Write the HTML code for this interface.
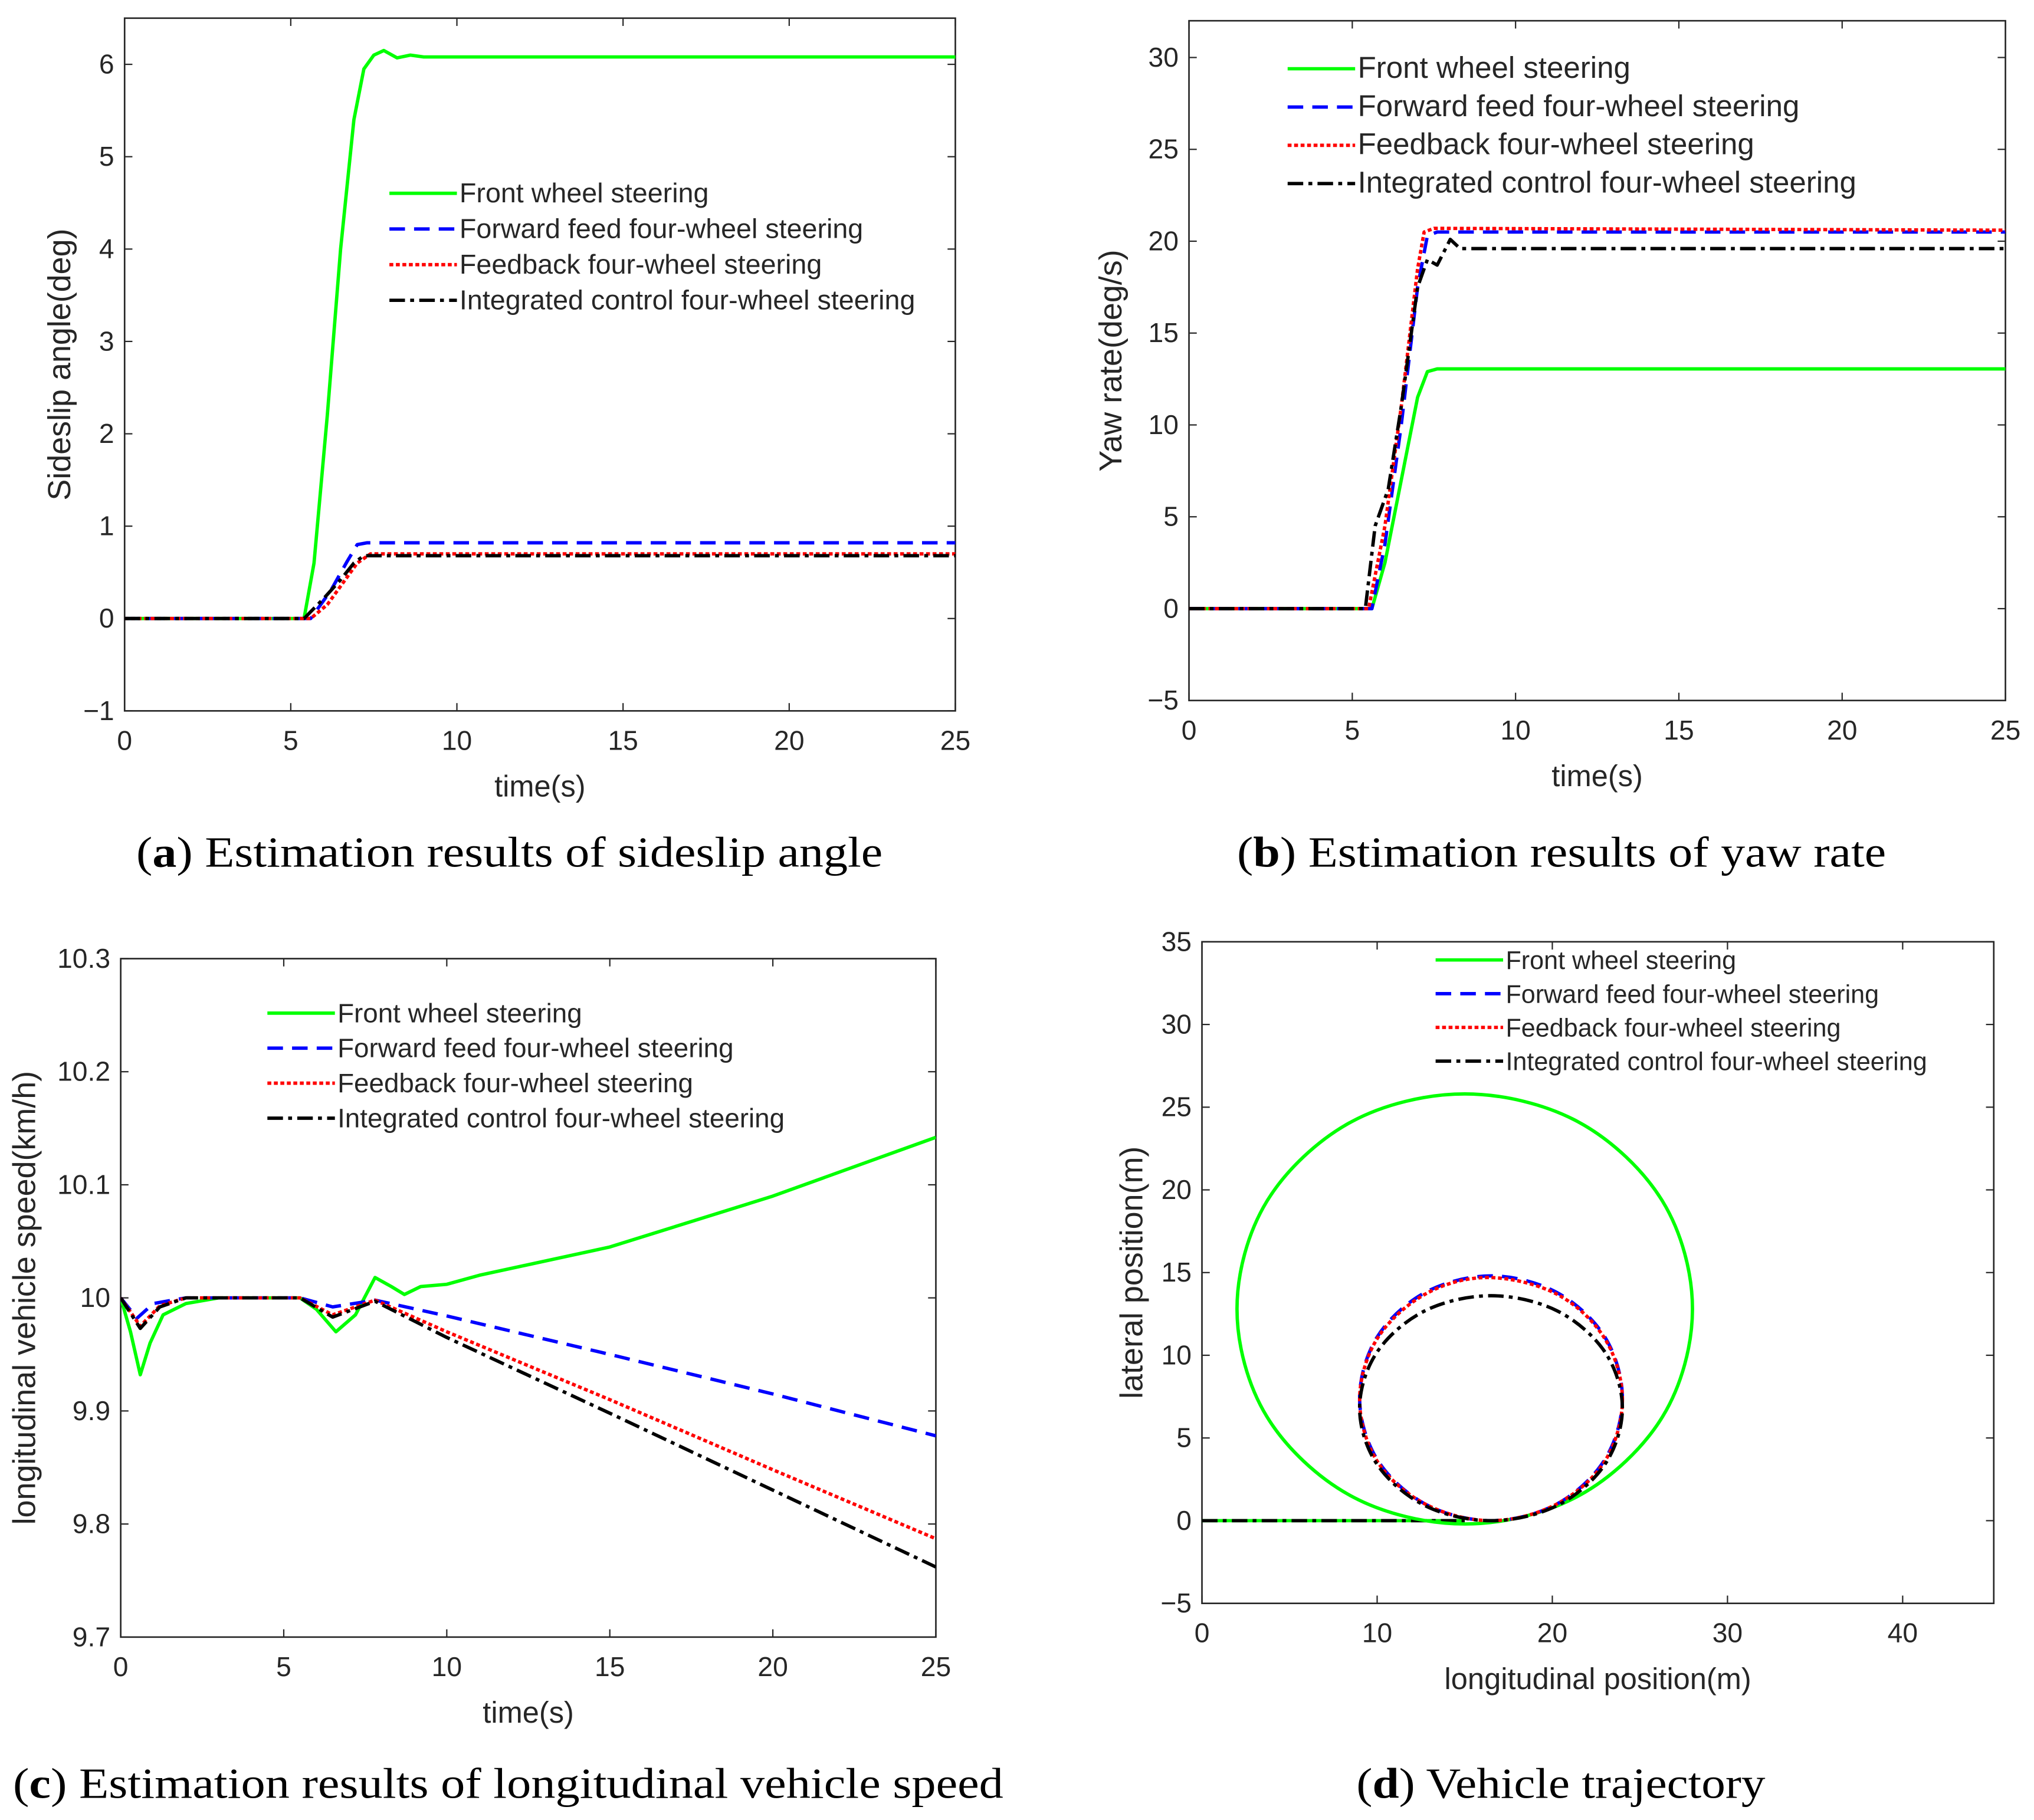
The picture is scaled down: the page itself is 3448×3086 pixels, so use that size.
<!DOCTYPE html>
<html><head><meta charset="utf-8"><style>
html,body{margin:0;padding:0;background:#fff}
svg{display:block}
text{font-family:"Liberation Sans",Arial,sans-serif;fill:#262626}
.cap{font-family:"Liberation Serif",serif;fill:#000;font-size:33px}
</style></head><body>
<svg id="fig" width="3448" height="3086" viewBox="0 0 1567 1403" preserveAspectRatio="none" xmlns="http://www.w3.org/2000/svg">
<text class="cap" x="105" y="668" textLength="575" lengthAdjust="spacingAndGlyphs">(<tspan font-weight="bold">a</tspan>) Estimation results of sideslip angle</text>
<text class="cap" x="953" y="668" textLength="500" lengthAdjust="spacingAndGlyphs">(<tspan font-weight="bold">b</tspan>) Estimation results of yaw rate</text>
<text class="cap" x="10" y="1386" textLength="763" lengthAdjust="spacingAndGlyphs">(<tspan font-weight="bold">c</tspan>) Estimation results of longitudinal vehicle speed</text>
<text class="cap" x="1045" y="1386" textLength="315" lengthAdjust="spacingAndGlyphs">(<tspan font-weight="bold">d</tspan>) Vehicle trajectory</text>
</svg>
<script>
// ---- data ----
const legendLabels=["Front wheel steering","Forward feed four-wheel steering","Feedback four-wheel steering","Integrated control four-wheel steering"];
// (a) sideslip
const aFrontT=[0,5.4,5.7,6.1,6.5,6.9,7.2,7.5,7.8,8.2,8.6,9,10,25];
const aFrontV=[0,0,0.6,2.2,4.0,5.4,5.95,6.1,6.15,6.07,6.1,6.08,6.08,6.08];
const aFwdT=[0,5.6,6.2,6.7,7.0,7.3,25];
const aFwdV=[0,0,0.3,0.62,0.8,0.82,0.82];
const aFbT=[0,5.6,6.1,6.6,7.0,7.4,25];
const aFbV=[0,0,0.15,0.4,0.6,0.7,0.7];
const aIntT=[0,5.4,6.0,6.5,6.9,7.2,25];
const aIntV=[0,0,0.22,0.42,0.6,0.68,0.68];
// (b) yaw rate
const bFrontT=[0,5.6,6.0,6.5,7.0,7.3,7.6,25];
const bFrontV=[0,0,2.5,7,11.5,12.9,13.05,13.05];
const bFwdT=[0,5.6,6.0,6.5,7.0,7.3,7.6,25];
const bFwdV=[0,0,3.5,10,17.5,20.3,20.5,20.5];
const bFbT=[0,5.5,6.0,6.5,7.0,7.2,7.5,25];
const bFbV=[0,0,4.5,11,18.5,20.5,20.7,20.6];
const bIntT=[0,5.4,5.7,6.1,6.5,7.0,7.3,7.6,8.0,8.3,25];
const bIntV=[0,0,4.5,6.5,11,17.5,19,18.7,20.1,19.6,19.6];
// (c) speed
const cFrontT=[0,0.3,0.6,0.9,1.3,2,3,5.5,6,6.6,7.2,7.8,8.3,8.7,9.2,10,11,15,20,25];
const cFrontV=[10,9.97,9.932,9.96,9.985,9.995,10,10,9.99,9.97,9.985,10.018,10.01,10.003,10.01,10.012,10.02,10.045,10.09,10.142];
const cFwdT=[0,0.5,1,2,5.5,6.5,7.8,10,15,20,25];
const cFwdV=[10,9.982,9.995,10,10,9.992,9.998,9.984,9.95,9.915,9.878];
const cFbT=[0,0.6,1.2,2,5.5,6.5,7.8,10,15,20,25];
const cFbV=[10,9.975,9.993,10,10,9.985,9.998,9.97,9.91,9.848,9.787];
const cIntT=[0,0.6,1.2,2,5.5,6.5,7.8,10,15,20,25];
const cIntV=[10,9.973,9.992,10,10,9.983,9.997,9.965,9.898,9.83,9.762];
// (d) trajectory (closed loops)
const dFrontX=[28,26.3,21.5,15,8.5,3.7,2,3.7,8.5,15,21.5,26.3];
const dFrontY=[12.8,19.3,24.1,25.8,24.1,19.3,12.8,6.3,1.5,-0.2,1.5,6.3];
const dFwdX=[24,23,20.25,16.5,12.75,10,9,10,12.75,16.5,20.25,23];
const dFwdY=[7.4,11.1,13.8,14.8,13.8,11.1,7.4,3.7,1,0,1,3.7];
const dFbX=[24,23,20.25,16.3,12.75,10,9,10,12.75,16.5,20.25,23];
const dFbY=[7.3,11.0,13.7,14.7,13.7,11.0,7.3,3.6,1,0,1,3.6];
const dIntX=[24,23,20.25,16.5,12.75,10,9,10,12.75,16.5,20.25,23];
const dIntY=[6.8,10.2,12.7,13.6,12.7,10.2,6.8,3.4,0.9,0,0.9,3.4];
const dLineX=[0,15];
const dLineY=[0,0];

// ---- drawing ----
const NS="http://www.w3.org/2000/svg";
const svg=document.getElementById('fig');
function el(tag,attrs,parent){const e=document.createElementNS(NS,tag);for(const k in attrs)e.setAttribute(k,attrs[k]);(parent||svg).appendChild(e);return e;}
const styles=[{stroke:'#00ff00',dash:''},{stroke:'#0000ff',dash:'12 7'},{stroke:'#ff0000',dash:'3 2'},{stroke:'#000000',dash:'12 4 3 4'}];
const names=['front-wheel','forward-feed','feedback','integrated'];

function axes(id,ax){
  const g=el('g',{});
  
  
  const sx=v=>ax.x0+(v-ax.xmin)/(ax.xmax-ax.xmin)*(ax.x1-ax.x0);
  const sy=v=>ax.y1-(v-ax.ymin)/(ax.ymax-ax.ymin)*(ax.y1-ax.y0);
  const f=el('rect',{x:ax.x0,y:ax.y0,width:ax.x1-ax.x0,height:ax.y1-ax.y0,fill:'#fff',stroke:'#262626','stroke-width':1.2},g);
  
  
  ax.xt.forEach((v,i)=>{const x=sx(v);
    el('line',{x1:x,x2:x,y1:ax.y1,y2:ax.y1-6,stroke:'#262626'},g);
    el('line',{x1:x,x2:x,y1:ax.y0,y2:ax.y0+6,stroke:'#262626'},g);
    const t=el('text',{x:x,y:ax.y1+30,'text-anchor':'middle','font-size':21},g);t.textContent=ax.xl[i];
    
    });
  ax.yt.forEach((v,i)=>{const y=sy(v);
    el('line',{x1:ax.x0,x2:ax.x0+6,y1:y,y2:y,stroke:'#262626'},g);
    el('line',{x1:ax.x1,x2:ax.x1-6,y1:y,y2:y,stroke:'#262626'},g);
    const t=el('text',{x:ax.x0-8,y:y+7,'text-anchor':'end','font-size':21},g);t.textContent=ax.yl[i];
    
    });
  const xt=el('text',{x:(ax.x0+ax.x1)/2,y:ax.y1+66,'text-anchor':'middle','font-size':23},g);xt.textContent=ax.xlabel;
  
  
  const yx=ax.ytx,yy=(ax.y0+ax.y1)/2;
  const yt=el('text',{x:yx,y:yy,'text-anchor':'middle','font-size':24.5,transform:`rotate(-90 ${yx} ${yy})`},g);yt.textContent=ax.ylabel;
  
  
  const clip=el('clipPath',{id:id+'clip'},g);el('rect',{x:ax.x0,y:ax.y0,width:ax.x1-ax.x0,height:ax.y1-ax.y0},clip);
  return {g,sx,sy,clip:`url(#${id}clip)`};
}
function line(A,xs,ys,si,name,closed){
  let d;
  if(closed){
    const n=xs.length,P=xs.map((x,i)=>[A.sx(x),A.sy(ys[i])]);
    d=`M${P[0][0]},${P[0][1]}`;
    for(let i=0;i<n;i++){const p0=P[(i-1+n)%n],p1=P[i],p2=P[(i+1)%n],p3=P[(i+2)%n];
      d+=`C${p1[0]+(p2[0]-p0[0])/6},${p1[1]+(p2[1]-p0[1])/6} ${p2[0]-(p3[0]-p1[0])/6},${p2[1]-(p3[1]-p1[1])/6} ${p2[0]},${p2[1]}`;}
  } else d=xs.map((x,i)=>(i?'L':'M')+A.sx(x)+','+A.sy(ys[i])).join('');
  const p=el('path',{d,fill:'none',stroke:styles[si].stroke,'stroke-width':2.6,'stroke-dasharray':styles[si].dash,'stroke-linejoin':'round','clip-path':A.clip},A.g);
  
  
}
function legend(A,id,x,y,dy,fs){
  legendLabels.forEach((lab,i)=>{
    const g=el('g',{},A.g);
    
    
    el('line',{x1:x,x2:x+52,y1:y+i*dy,y2:y+i*dy,stroke:styles[i].stroke,'stroke-width':2.6,'stroke-dasharray':styles[i].dash},g);
    const t=el('text',{x:x+54,y:y+i*dy+7,'font-size':fs},g);t.textContent=lab;
  });
}
// (a)
let A=axes('sideslip',{x0:96,x1:736,y0:14,y1:548,xmin:0,xmax:25,ymin:-1,ymax:6.5,xt:[0,5,10,15,20,25],xl:['0','5','10','15','20','25'],yt:[-1,0,1,2,3,4,5,6],yl:['\u22121','0','1','2','3','4','5','6'],xlabel:'time(s)',ylabel:'Sideslip angle(deg)',ytx:54});
line(A,aFrontT,aFrontV,0,'sideslip-front-line');line(A,aFwdT,aFwdV,1,'sideslip-forward-line');line(A,aFbT,aFbV,2,'sideslip-feedback-line');line(A,aIntT,aIntV,3,'sideslip-integrated-line');
legend(A,'sideslip',300,149,27.5,21.2);
// (b)
A=axes('yaw',{x0:916,x1:1545,y0:16,y1:540,xmin:0,xmax:25,ymin:-5,ymax:32,xt:[0,5,10,15,20,25],xl:['0','5','10','15','20','25'],yt:[-5,0,5,10,15,20,25,30],yl:['\u22125','0','5','10','15','20','25','30'],xlabel:'time(s)',ylabel:'Yaw rate(deg/s)',ytx:864});
line(A,bFrontT,bFrontV,0,'yaw-front-line');line(A,bFwdT,bFwdV,1,'yaw-forward-line');line(A,bFbT,bFbV,2,'yaw-feedback-line');line(A,bIntT,bIntV,3,'yaw-integrated-line');
legend(A,'yaw',992,53,29.5,23.2);
// (c)
A=axes('speed',{x0:93,x1:721,y0:739,y1:1262,xmin:0,xmax:25,ymin:9.7,ymax:10.3,xt:[0,5,10,15,20,25],xl:['0','5','10','15','20','25'],yt:[9.7,9.8,9.9,10,10.1,10.2,10.3],yl:['9.7','9.8','9.9','10','10.1','10.2','10.3'],xlabel:'time(s)',ylabel:'longitudinal vehicle speed(km/h)',ytx:27});
line(A,cFrontT,cFrontV,0,'speed-front-line');line(A,cFwdT,cFwdV,1,'speed-forward-line');line(A,cFbT,cFbV,2,'speed-feedback-line');line(A,cIntT,cIntV,3,'speed-integrated-line');
legend(A,'speed',206,781,27,20.8);
// (d)
A=axes('trajectory',{x0:926,x1:1536,y0:726,y1:1236,xmin:0,xmax:45.2,ymin:-5,ymax:35,xt:[0,10,20,30,40],xl:['0','10','20','30','40'],yt:[-5,0,5,10,15,20,25,30,35],yl:['\u22125','0','5','10','15','20','25','30','35'],xlabel:'longitudinal position(m)',ylabel:'lateral position(m)',ytx:880});
line(A,dLineX,dLineY,0,'trajectory-straight-front');line(A,dLineX,dLineY,3,'trajectory-straight-integrated');
line(A,dFrontX,dFrontY,0,'trajectory-front-loop',true);line(A,dFwdX,dFwdY,1,'trajectory-forward-loop',true);line(A,dFbX,dFbY,2,'trajectory-feedback-loop',true);line(A,dIntX,dIntY,3,'trajectory-integrated-loop',true);
legend(A,'trajectory',1106,740,26,19.6);
</script>
</body></html>
